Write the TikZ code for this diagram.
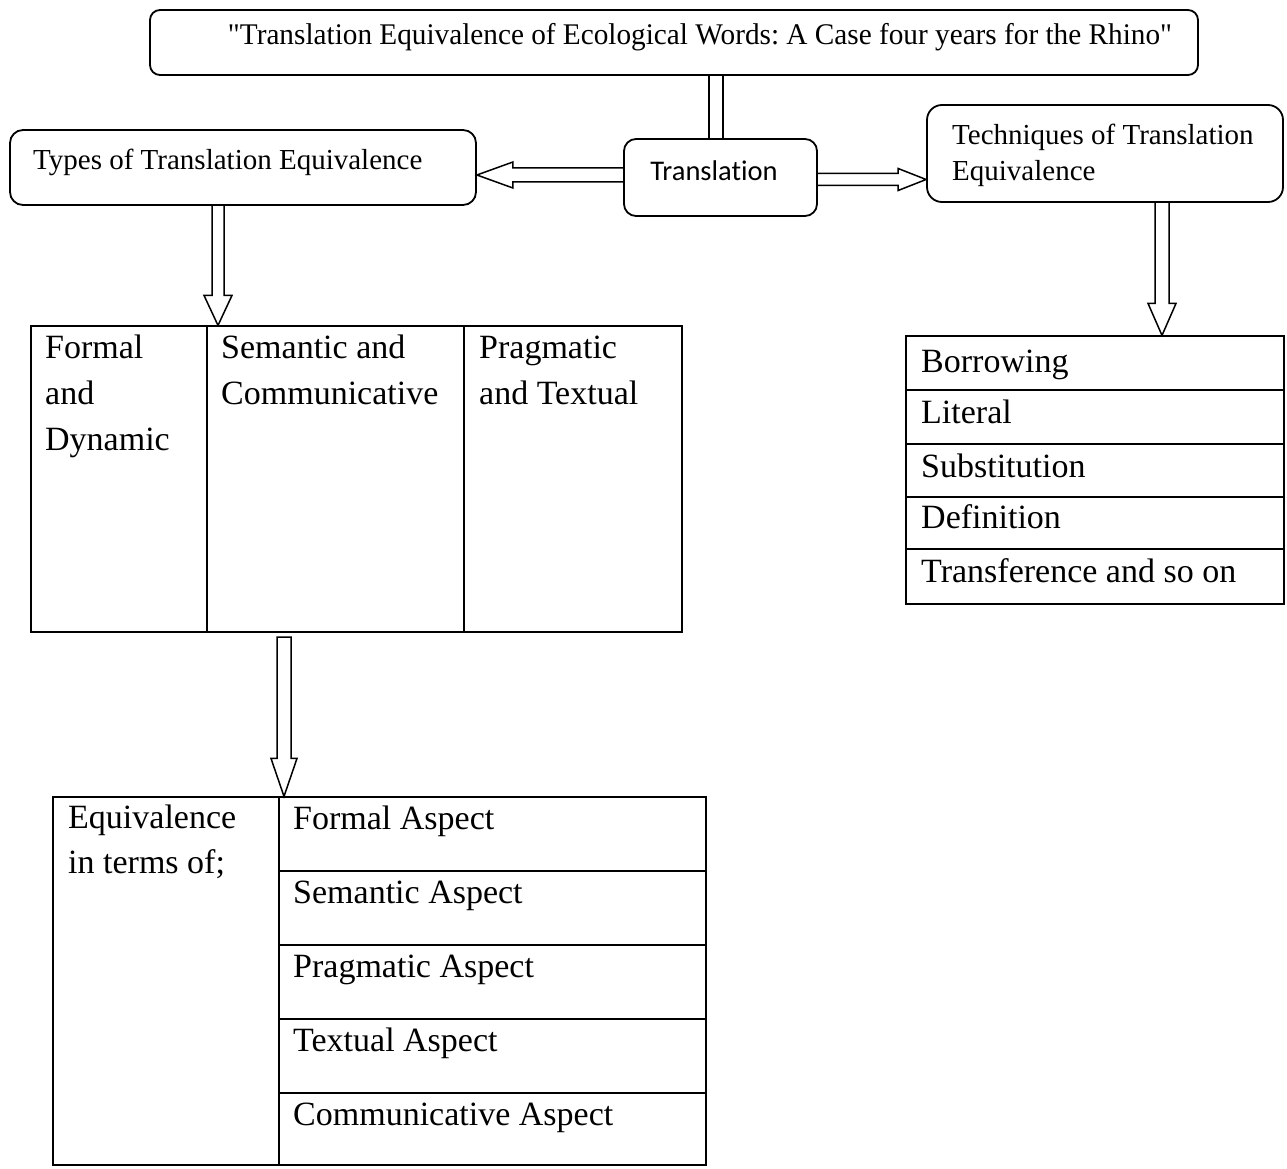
\documentclass[tikz,border=0pt]{standalone}
\usepackage{fontspec}
\setmainfont{Liberation Serif}
\newfontfamily\calibfont[Ligatures={NoCommon}]{Carlito}
\newfontfamily\titlefont[FakeStretch=0.975]{Liberation Serif}
\usetikzlibrary{calc}
\frenchspacing
% hollow block arrow: start, tip, shaft half-width, head half-width, head length, path ending
\newcommand\hollowarrow[6]{%
  \coordinate (ha-h) at ($(#2)!#5!(#1)$);
  \draw[arrowline] ($(#1)!#3!90:(#2)$) -- ($(ha-h)!#3!90:(#2)$) -- ($(ha-h)!#4!90:(#2)$) -- (#2)
     -- ($(ha-h)!#4!-90:(#2)$) -- ($(ha-h)!#3!-90:(#2)$) -- ($(#1)!#3!-90:(#2)$) #6;
}
\begin{document}
\begin{tikzpicture}[x=1pt,y=-1pt,
  rbox/.style={draw, rounded corners=#1, line width=1.8pt, inner sep=0pt},
  rbox/.default=10pt,
  tbox/.style={draw, line width=1.2pt, inner sep=0pt},
  tline/.style={line width=1.2pt},
  arrowline/.style={line width=1.5pt, line join=miter},
  ttxt/.style={anchor=base west, inner sep=0pt, font=\fontsize{29}{35}\selectfont},
  celltxt/.style={anchor=base west, inner sep=0pt, font=\fontsize{34}{46}\selectfont}]
\useasboundingbox (0,0) rectangle (1287,1169);

% rounded boxes
\node[rbox=10pt, minimum width=1048pt, minimum height=65pt] (title) at (674,42.5) {};
\node[anchor=base, inner sep=0pt, font=\titlefont\fontsize{30}{36}\selectfont] (titletxt) at (700,45)
  {"Translation Equivalence of Ecological Words: A Case four years for the Rhino"};

\node[rbox=12pt, minimum width=193pt, minimum height=77pt] (trans) at (720.5,177.5) {};
\node[anchor=base, inner sep=0pt, font=\calibfont\fontsize{28.5}{34}\selectfont] (transtxt) at (714,181) {Translation};

\node[rbox=13pt, minimum width=466pt, minimum height=75pt] (types) at (243,167.5) {};
\node[ttxt] (typestxt) at (33,170) {Types of Translation Equivalence};

\node[rbox=15pt, minimum width=356pt, minimum height=97pt] (tech) at (1105,153.5) {};
\node[ttxt] (techtxt1) at (952,145) {Techniques of Translation};
\node[ttxt] (techtxt2) at (952,181) {Equivalence};

% table 1
\node[tbox, minimum width=651pt, minimum height=306pt] (t1) at (356.5,479) {};
\coordinate (c1a) at (207,0);
\coordinate (c1b) at (464,0);
\draw[tline] (t1.north -| c1a) -- (t1.south -| c1a);
\draw[tline] (t1.north -| c1b) -- (t1.south -| c1b);
\node[celltxt] (f1) at (45,358) {Formal};
\node[celltxt] (f2) at (45,404) {and};
\node[celltxt] (f3) at (45,450) {Dynamic};
\node[celltxt] (s1) at (221,358) {Semantic and};
\node[celltxt] (s2) at (221,404) {Communicative};
\node[celltxt] (p1) at (479,358) {Pragmatic};
\node[celltxt] (p2) at (479,404) {and Textual};

% table 2
\node[tbox, minimum width=378pt, minimum height=268pt] (t2) at (1095,470) {};
\foreach \yy/\nm in {390/r1, 444/r2, 497/r3, 549/r4} {
  \coordinate (t2\nm) at (0,\yy);
  \draw[tline] (t2.west |- t2\nm) -- (t2.east |- t2\nm);
}
\node[celltxt] (b1) at (921,372) {Borrowing};
\node[celltxt] (b2) at (921,423) {Literal};
\node[celltxt] (b3) at (921,477) {Substitution};
\node[celltxt] (b4) at (921,528) {Definition};
\node[celltxt] (b5) at (921,582) {Transference and so on};

% table 3
\node[tbox, minimum width=653pt, minimum height=368pt] (t3) at (379.5,981) {};
\coordinate (c3) at (279,0);
\draw[tline] (t3.north -| c3) -- (t3.south -| c3);
\foreach \yy/\nm in {871/r1, 945/r2, 1019/r3, 1093/r4} {
  \coordinate (t3\nm) at (279,\yy);
  \draw[tline] (t3\nm) -- (t3.east |- t3\nm);
}
\node[celltxt] (e1) at (68,828) {Equivalence};
\node[celltxt] (e2) at (68,873) {in terms of;};
\node[celltxt] (a1) at (293,829) {Formal Aspect};
\node[celltxt] (a2) at (293,903) {Semantic Aspect};
\node[celltxt] (a3) at (293,977) {Pragmatic Aspect};
\node[celltxt] (a4) at (293,1051) {Textual Aspect};
\node[celltxt] (a5) at (293,1125) {Communicative Aspect};

% connectors
\coordinate (dl) at (709,0);
\coordinate (dr) at (723,0);
\draw[arrowline] (title.south -| dl) -- (trans.north -| dl);
\draw[arrowline] (title.south -| dr) -- (trans.north -| dr);

\coordinate (aL) at (0,175);
\hollowarrow{trans.west |- aL}{types.east |- aL}{7pt}{13pt}{36pt}{}
\coordinate (aR) at (0,179.5);
\hollowarrow{trans.east |- aR}{tech.west |- aR}{6pt}{11pt}{28pt}{}
\coordinate (aT) at (218,0);
\hollowarrow{types.south -| aT}{t1.north -| aT}{6pt}{14pt}{30pt}{}
\coordinate (aQ) at (1162,0);
\hollowarrow{tech.south -| aQ}{t2.north -| aQ}{7pt}{14pt}{32pt}{}
\coordinate (a6s) at (284,637);
\coordinate (a6t) at (284,0);
\hollowarrow{a6s}{t3.north -| a6t}{7pt}{13pt}{38pt}{-- cycle}
\end{tikzpicture}
\end{document}
